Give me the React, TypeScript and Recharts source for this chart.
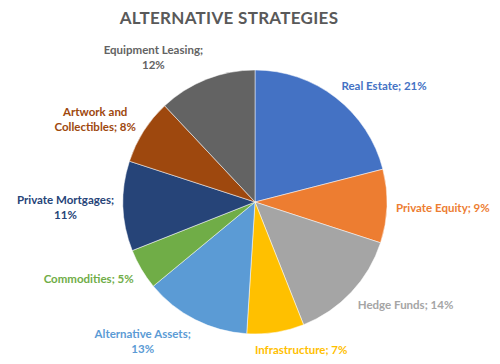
import React from 'react'
import { PieChart, Pie, Cell } from 'recharts'

const categories = [
  'Real Estate',
  'Private Equity',
  'Hedge Funds',
  'Infrastructure',
  'Alternative Assets',
  'Commodities',
  'Private Mortgages',
  'Artwork and Collectibles',
  'Equipment Leasing',
]
const shares = [21, 9, 14, 7, 13, 5, 11, 8, 12]
// how each data label wraps in the reference
const labelLines = [
  ['Real Estate; 21%'],
  ['Private Equity; 9%'],
  ['Hedge Funds; 14%'],
  ['Infrastructure; 7%'],
  ['Alternative Assets;', '13%'],
  ['Commodities; 5%'],
  ['Private Mortgages;', '11%'],
  ['Artwork and', 'Collectibles; 8%'],
  ['Equipment Leasing;', '12%'],
]
const COLORS = ['#4472C4', '#ED7D31', '#A5A5A5', '#FFC000', '#5B9BD5', '#70AD47', '#264478', '#9E480E', '#636363']
const LABEL_COLORS = ['#4472C4', '#ED7D31', '#A5A5A5', '#FFC000', '#5B9BD5', '#70AD47', '#264478', '#9E480E', '#636363']

const data = categories.map((name, i) => ({ name, value: shares[i] }))

const FONT = 'bold 11.5px Lato'
const LINE_H = 15
let ctx: CanvasRenderingContext2D | null = null
function measure(s: string) {
  if (!ctx) ctx = document.createElement('canvas').getContext('2d')
  if (!ctx) return s.length * 6
  ctx.font = FONT
  return ctx.measureText(s).width
}

const RADIAN = Math.PI / 180

function renderLabel(props: any) {
  const { cx, cy, midAngle, outerRadius, index } = props
  const lines = labelLines[index]
  const r = outerRadius + 9
  const c = Math.cos(midAngle * RADIAN)
  const s = Math.sin(midAngle * RADIAN)
  const px = cx + r * c
  const py = cy - r * s
  const w = Math.max(...lines.map(measure))
  const h = lines.length * LINE_H
  const shift = Math.abs(c) > 0.3 ? Math.sign(c) : c / 0.3
  const bx = px + (shift * w) / 2
  const by = py - (s * h) / 2
  return (
    <text
      x={bx}
      y={by}
      fill={LABEL_COLORS[index]}
      textAnchor="middle"
      dominantBaseline="central"
      style={{ font: FONT }}
    >
      {lines.map((ln, i) => (
        <tspan key={i} x={bx} y={by - h / 2 + LINE_H / 2 + i * LINE_H}>
          {ln}
        </tspan>
      ))}
    </text>
  )
}

export default function App() {
  return (
    <div style={{ position: 'absolute', left: 0, top: 0, width: 500, height: 364, background: '#fff' }}>
      <div
        style={{
          position: 'absolute',
          top: 7,
          left: 0,
          width: 458,
          textAlign: 'center',
          font: 'bold 17px Lato',
          color: '#595959',
          letterSpacing: 0.3,
        }}
      >
        ALTERNATIVE STRATEGIES
      </div>
      <PieChart width={500} height={364} margin={{ top: 0, right: 0, bottom: 0, left: 0 }}>
        <Pie
          data={data}
          dataKey="value"
          nameKey="name"
          cx={255}
          cy={202}
          outerRadius={132}
          startAngle={90}
          endAngle={-270}
          stroke="#fff"
          strokeWidth={0.5}
          label={renderLabel}
          labelLine={false}
          isAnimationActive={false}
        >
          {data.map((_, i) => (
            <Cell key={i} fill={COLORS[i]} />
          ))}
        </Pie>
      </PieChart>
    </div>
  )
}
